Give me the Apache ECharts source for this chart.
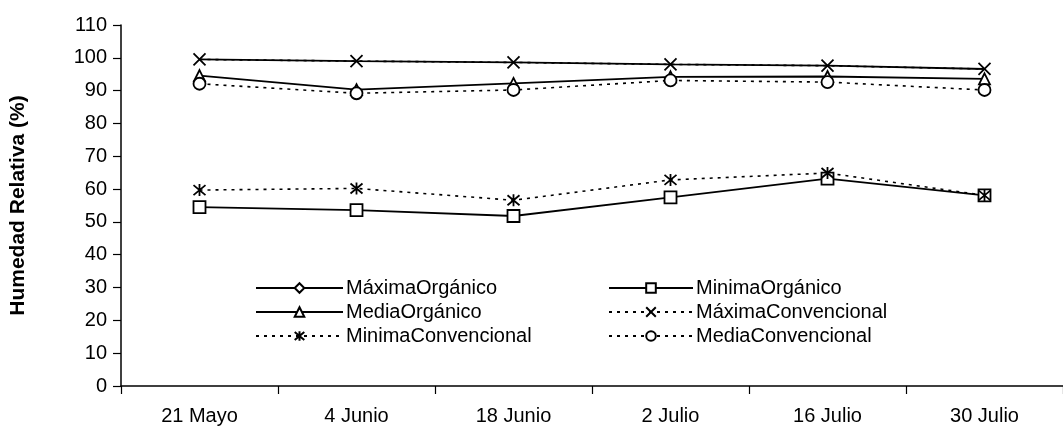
<!DOCTYPE html>
<html>
<head>
<meta charset="utf-8">
<script src="https://cdn.jsdelivr.net/npm/echarts@6/dist/echarts.min.js"></script>
<style>
html,body{margin:0;padding:0;background:#fff;}
#chart{width:1063px;height:445px;}
</style>
</head>
<body>
<div id="chart"></div>
<script>
var categories = ['21 Mayo', '4 Junio', '18 Junio', '2 Julio', '16 Julio', '30 Julio'];
var maximaOrganico = [99.5, 99, 98.6, 98, 97.6, 96.6];
var minimaOrganico = [54.5, 53.6, 51.8, 57.5, 63.2, 58.1];
var mediaOrganico = [94.6, 90.3, 92.2, 94.2, 94.3, 93.6];
var maximaConvencional = [99.5, 99, 98.6, 98, 97.6, 96.6];
var minimaConvencional = [59.7, 60.2, 56.6, 62.8, 64.9, 58.1];
var mediaConvencional = [92.1, 89.2, 90.2, 93.1, 92.6, 90.2];
var yTicks = [0, 10, 20, 30, 40, 50, 60, 70, 80, 90, 100, 110];

var FONT = '"Liberation Sans", Arial, sans-serif';
var XPATH = 'path://M0,0L10,10M10,0L0,10';
var ASTPATH = 'path://M0,0L10,10M10,0L0,10M5,-1L5,11';

function mk(name, data, symbol, size, dashed) {
  return {
    name: name,
    type: 'line',
    data: data,
    symbol: symbol,
    symbolSize: size,
    showAllSymbol: true,
    lineStyle: {color: '#000', width: dashed ? 1.6 : 1.8, type: dashed ? [3, 5] : 'solid'},
    itemStyle: {color: (symbol.indexOf('path://') === 0) ? 'rgba(0,0,0,0)' : '#fff', borderColor: '#000', borderWidth: 1.8},
    emphasis: {disabled: true},
    animation: false
  };
}

var chart = echarts.init(document.getElementById('chart'));
chart.setOption({
  backgroundColor: '#fff',
  animation: false,
  grid: {left: 117, top: 25, width: 955, height: 361},
  legend: [
    {
      orient: 'vertical', left: 250, top: 273,
      itemWidth: 87, itemHeight: 12, itemGap: 4,
      textStyle: {fontFamily: FONT, fontSize: 20, color: '#000', lineHeight: 20, padding: [0, 0, 0, -2]},
      data: ['MáximaOrgánico', 'MediaOrgánico', 'MinimaConvencional'],
      selectedMode: false
    },
    {
      orient: 'vertical', left: 603, top: 273,
      itemWidth: 84, itemHeight: 12, itemGap: 4,
      textStyle: {fontFamily: FONT, fontSize: 20, color: '#000', lineHeight: 20, padding: [0, 0, 0, -2]},
      data: ['MinimaOrgánico', 'MáximaConvencional', 'MediaConvencional'],
      selectedMode: false
    }
  ],
  xAxis: {
    type: 'category',
    data: categories,
    boundaryGap: true,
    axisLine: {lineStyle: {color: '#000', width: 1.5}},
    axisTick: {show: true, length: 8, lineStyle: {color: '#000', width: 1.2}},
    axisLabel: {fontFamily: FONT, fontSize: 20, color: '#000', margin: 20}
  },
  yAxis: {
    type: 'value',
    min: 0, max: 110, interval: 10,
    name: 'Humedad Relativa (%)',
    nameLocation: 'middle',
    nameGap: 92,
    nameTextStyle: {fontFamily: FONT, fontSize: 21, fontWeight: 'bold', color: '#000'},
    axisLine: {show: true, lineStyle: {color: '#000', width: 1.5}},
    axisTick: {show: true, length: 8, lineStyle: {color: '#000', width: 1.2}},
    splitLine: {show: false},
    axisLabel: {fontFamily: FONT, fontSize: 20, color: '#000', margin: 14,
      formatter: function (v) { return yTicks.indexOf(v) >= 0 ? String(v) : ''; }}
  },
  series: [
    mk('MáximaOrgánico', maximaOrganico, 'diamond', 0, false),
    mk('MinimaOrgánico', minimaOrganico, 'rect', 12, false),
    mk('MediaOrgánico', mediaOrganico, 'triangle', 11, false),
    mk('MáximaConvencional', maximaConvencional, XPATH, 12, true),
    mk('MinimaConvencional', minimaConvencional, ASTPATH, 12, true),
    mk('MediaConvencional', mediaConvencional, 'circle', 12, true)
  ]
});
</script>
</body>
</html>
